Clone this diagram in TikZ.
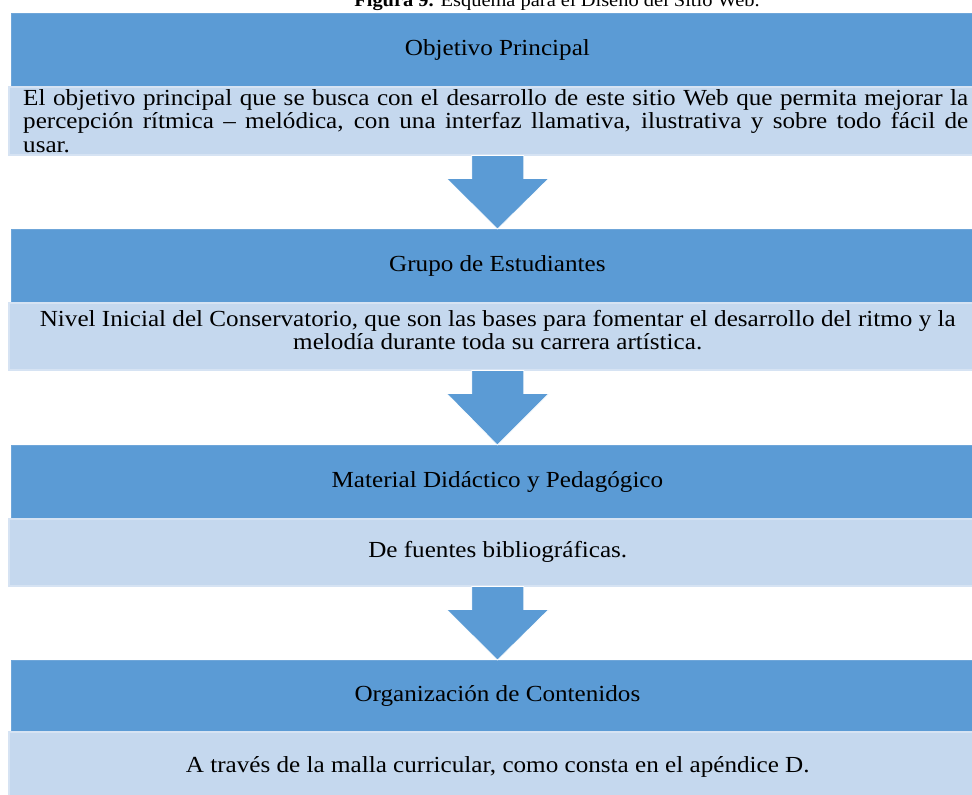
\documentclass[tikz,border=0pt]{standalone}
\usepackage{fontspec}
\setmainfont{Liberation Serif}[FakeStretch=1.093]
\usetikzlibrary{calc}
\definecolor{dkblue}{HTML}{5B9BD5}
\definecolor{dkedge}{HTML}{6FA6D9}
\definecolor{ltblue}{HTML}{C5D8EE}
\definecolor{ltedge}{HTML}{D6E3F3}
\tikzset{
  darkbox/.style={fill=dkblue, draw=dkedge, line width=0.8pt, anchor=north west,
    minimum width=972pt, inner sep=0pt, font=\fontsize{23}{23.5}\selectfont, text=black},
  lightbox/.style={fill=ltblue, draw=ltedge, line width=1.5pt, anchor=north west,
    minimum width=978pt, inner sep=0pt},
  bodytext/.style={inner sep=0pt, font=\fontsize{23}{23.5}\selectfont, text=black, align=center},
  blockarrow/.style={fill=dkblue, draw=white, line width=0.6pt}
}
\newcommand{\blockarr}[2]{%
  \path[blockarrow] ($(#1.south)+(-26,0)$) -- ($(#1.south)+(-26,23)$) -- ($(#1.south)+(-51,23)$)
    -- (#2.north) -- ($(#1.south)+(51,23)$) -- ($(#1.south)+(26,23)$) -- ($(#1.south)+(26,0)$) -- cycle;}
\begin{document}
\begin{tikzpicture}[x=1pt,y=-1pt]
\useasboundingbox (0,0) rectangle (972,795);
\node[anchor=base, inner sep=0pt, font=\fontsize{18.7}{22}\selectfont] (title) at (557,6) {\textbf{Figura 9.} Esquema para el Diseño del Sitio Web.};

\node[darkbox, minimum height=73pt] (h1) at (11,13) {Objetivo Principal};
\node[lightbox, minimum height=68pt] (l1) at (8,86) {};
\node[bodytext, align=left, anchor=west] (t1) at ($(l1.west)+(15,0)$) {%
  \makebox[945pt][s]{El objetivo principal que se busca con el desarrollo de este sitio Web que permita mejorar la}\\
  \makebox[945pt][s]{percepción rítmica – melódica, con una interfaz llamativa, ilustrativa y sobre todo fácil de}\\
  usar.};

\node[darkbox, minimum height=73pt] (h2) at (11,229) {Grupo de Estudiantes};
\node[lightbox, minimum height=67pt] (l2) at (8,302) {};
\node[bodytext] (t2) at ($(l2.center)+(0,-6)$) {Nivel Inicial del Conservatorio, que son las bases para fomentar el desarrollo del ritmo y la\\ melodía durante toda su carrera artística.};

\node[darkbox, minimum height=74pt] (h3) at (11,445) {Material Didáctico y Pedagógico};
\node[lightbox, minimum height=67pt] (l3) at (8,518) {};
\node[bodytext] (t3) at (l3.center) {De fuentes bibliográficas.};

\node[darkbox, minimum height=71pt] (h4) at (11,660) {Organización de Contenidos};
\node[lightbox, minimum height=70pt] (l4) at (8,731) {};
\node[bodytext] (t4) at (l4.center) {A través de la malla curricular, como consta en el apéndice D.};

\blockarr{l1}{h2}
\blockarr{l2}{h3}
\blockarr{l3}{h4}
\end{tikzpicture}
\end{document}
